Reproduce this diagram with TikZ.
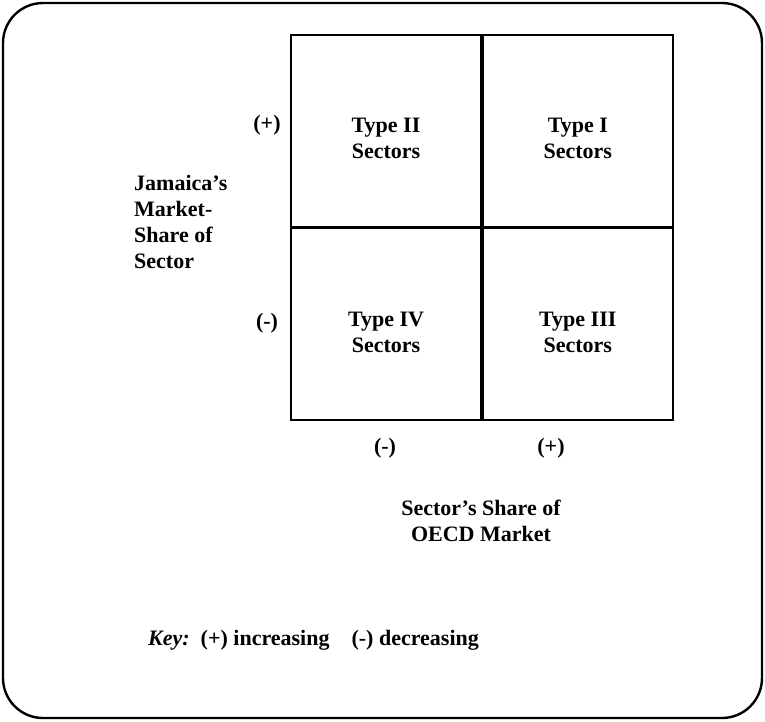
\documentclass[tikz,border=0pt]{standalone}
\usepackage{fontspec}
\setmainfont{Liberation Serif}
\usetikzlibrary{positioning}
\tikzset{frame/.style = {draw, line width=2.4pt, rounded corners=40pt}}
\tikzset{cell/.style = {draw, line width=1.8pt, minimum width=190pt, minimum height=191.5pt, inner sep=0pt}}
\tikzset{txt/.style = {font=\fontsize{22}{26}\selectfont\bfseries, align=center, inner sep=0pt}}
\tikzset{sign/.style = {font=\fontsize{22}{26}\selectfont\bfseries, inner sep=0pt}}

\begin{document}
\begin{tikzpicture}[x=1pt, y=-1pt]
  \useasboundingbox (0,0) rectangle (765,721);
  \draw [frame] (3,3) rectangle (762,718);

  % the four quadrants
  \node [cell] (c2) at (386,130.75) {};
  \node [cell, right=0pt of c2] (c1) {};
  \node [cell, below=0pt of c2] (c4) {};
  \node [cell, right=0pt of c4] (c3) {};

  \node [txt] (t2) at ([yshift=-8pt]c2.center) {Type II\\Sectors};
  \node [txt] (t1) at ([yshift=-8pt]c1.center) {Type I\\Sectors};
  \node [txt] (t4) at ([yshift=-8pt]c4.center) {Type IV\\Sectors};
  \node [txt] (t3) at ([yshift=-8pt]c3.center) {Type III\\Sectors};

  % axis signs and titles
  \node [sign] (yplus) at (267,125) {(+)};
  \node [sign] (yminus) at (267,323) {(-)};
  \node [sign] (xminus) at (385,448) {(-)};
  \node [sign] (xplus) at (551,448) {(+)};

  \node [txt, align=left, anchor=west] (ytitle) at (134,222) {Jamaica's\\Market-\\Share of\\Sector};
  \node [txt] (xtitle) at (481,521) {Sector's Share of\\OECD Market};

  \node [sign, anchor=west] (key) at (148,640) {\textit{Key:}\ \ (+) increasing\quad (-) decreasing};
\end{tikzpicture}
\end{document}
